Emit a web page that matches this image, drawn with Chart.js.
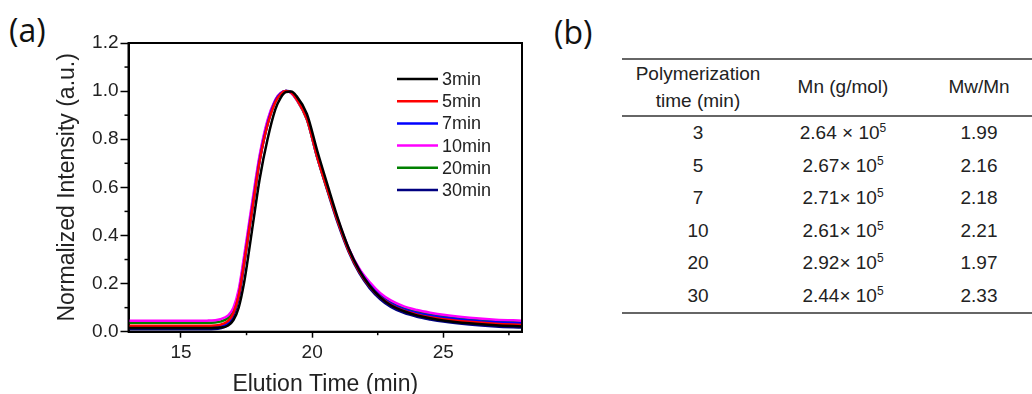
<!DOCTYPE html>
<html lang="en">
<head>
    <meta charset="UTF-8">
    <title>GPC traces and molecular weight table</title>
    <script src="https://cdn.jsdelivr.net/npm/chart.js"></script>
    <style>
        body { margin: 0; width: 1032px; height: 394px; background: #fff; position: relative; overflow: hidden; }
        .panel-tag { position: absolute; font-family: 'Open Sans', sans-serif; font-size: 32px; line-height: 32px; color: #111; }
        #chartBox { position: absolute; left: 0; top: 0; width: 540px; height: 394px; }
        #tblBox { position: absolute; left: 622px; top: 58px; width: 410px; }
        table { border-collapse: separate; border-spacing: 0; width: 410px; table-layout: fixed;
                font-family: 'Liberation Sans', Arial, sans-serif; font-size: 19px; color: #222;
                border-top: 2px solid #666; border-bottom: 2px solid #666; }
        th { font-weight: normal; height: 55px; padding: 0; line-height: 26.7px; border-bottom: 2px solid #666; text-align: center; vertical-align: middle; }
        td { height: 32.5px; padding: 0; line-height: 32.5px; text-align: center; }
        .c3 { padding-left: 14px; }
        sup { font-size: 12px; line-height: 0; vertical-align: 7px; }
    </style>
</head>
<body>
    <div class="panel-tag" style="left:9px; top:14px;">(a)</div>
    <div class="panel-tag" style="left:554px; top:16px;">(b)</div>
    <div id="chartBox"><canvas id="gpcChart"></canvas></div>
    <div id="tblBox">
        <table>
            <colgroup><col style="width:152px"><col style="width:138px"><col style="width:120px"></colgroup>
            <thead>
                <tr><th>Polymerization<br>time (min)</th><th>Mn (g/mol)</th><th class="c3">Mw/Mn</th></tr>
            </thead>
            <tbody id="tblBody"></tbody>
        </table>
    </div>

    <script>
// elution time grid (min) shared by all traces
const elutionTime = [13, 14, 15, 16, 16.5, 16.8, 17.0, 17.2, 17.4, 17.6, 17.8, 18.0, 18.3, 18.6, 18.8, 19.0, 19.2, 19.4,
    19.8, 20.2, 20.6, 21.0, 21.4, 21.8, 22.2, 22.6, 23.0, 23.5, 24, 24.5, 25, 26, 27, 28];

const seriesLabels = ['3min', '5min', '7min', '10min', '20min', '30min'];

const trace3 = [0.015, 0.015, 0.015, 0.015, 0.017, 0.026, 0.048, 0.10, 0.20, 0.34, 0.49, 0.635, 0.80, 0.925, 0.972, 0.996, 0.998, 0.98,
    0.905, 0.75, 0.605, 0.465, 0.345, 0.255, 0.19, 0.143, 0.11, 0.085, 0.068, 0.056, 0.047, 0.035, 0.027, 0.022];
const trace5 = [0.025, 0.025, 0.025, 0.025, 0.029, 0.045, 0.078, 0.15, 0.28, 0.425, 0.57, 0.71, 0.86, 0.955, 0.988, 1.0, 0.994, 0.968,
    0.885, 0.725, 0.585, 0.452, 0.335, 0.25, 0.188, 0.143, 0.112, 0.087, 0.071, 0.06, 0.052, 0.041, 0.033, 0.028];
const trace7 = [0.02, 0.02, 0.02, 0.02, 0.024, 0.04, 0.075, 0.148, 0.28, 0.43, 0.575, 0.715, 0.865, 0.96, 0.99, 1.0, 0.995, 0.972,
    0.89, 0.73, 0.59, 0.455, 0.34, 0.255, 0.193, 0.148, 0.117, 0.093, 0.077, 0.066, 0.058, 0.047, 0.039, 0.035];
const trace10 = [0.045, 0.045, 0.045, 0.046, 0.052, 0.068, 0.10, 0.175, 0.31, 0.455, 0.60, 0.735, 0.88, 0.965, 0.992, 1.0, 0.992, 0.966,
    0.885, 0.725, 0.59, 0.46, 0.345, 0.262, 0.205, 0.16, 0.13, 0.105, 0.09, 0.079, 0.07, 0.058, 0.05, 0.046];
const trace20 = [0.037, 0.037, 0.037, 0.037, 0.042, 0.058, 0.09, 0.162, 0.295, 0.44, 0.585, 0.725, 0.872, 0.962, 0.99, 1.0, 0.993, 0.966,
    0.882, 0.722, 0.585, 0.455, 0.342, 0.258, 0.198, 0.153, 0.123, 0.098, 0.083, 0.073, 0.065, 0.054, 0.046, 0.041];
const trace30 = [0.01, 0.01, 0.01, 0.01, 0.014, 0.03, 0.066, 0.14, 0.275, 0.425, 0.57, 0.712, 0.862, 0.958, 0.988, 1.0, 0.995, 0.97,
    0.885, 0.722, 0.58, 0.445, 0.33, 0.243, 0.18, 0.135, 0.103, 0.078, 0.062, 0.051, 0.042, 0.03, 0.022, 0.017];

const xMajorTicks = [15, 20, 25];
const xMinorTicks = [17.5, 22.5, 27.5];
const yMajorTicks = [0, 0.2, 0.4, 0.6, 0.8, 1.0, 1.2];
const yMinorTicks = [0.1, 0.3, 0.5, 0.7, 0.9, 1.1];

// table (b)
const polyTimes = ['3', '5', '7', '10', '20', '30'];
const mnText = ['2.64 \u00d7 10', '2.67\u00d7 10', '2.71\u00d7 10', '2.61\u00d7 10', '2.92\u00d7 10', '2.44\u00d7 10'];
const mnExponent = ['5', '5', '5', '5', '5', '5'];
const pdiValues = ['1.99', '2.16', '2.18', '2.21', '1.97', '2.33'];

const tbody = document.getElementById('tblBody');
polyTimes.forEach((t, i) => {
    const tr = document.createElement('tr');
    tr.innerHTML = '<td>' + t + '</td><td>' + mnText[i] + '<sup>' + mnExponent[i] + '</sup></td><td class="c3">' + pdiValues[i] + '</td>';
    tbody.appendChild(tr);
});

const FONT = "'Liberation Sans', Arial, sans-serif";
const colors = ['#000000', '#ff0000', '#0000ff', '#ff00ff', '#008000', '#000080'];
const traces = [trace3, trace5, trace7, trace10, trace20, trace30];

// box around plot, minor ticks and the inset legend
const framePlugin = {
    id: 'frame',
    afterDatasetsDraw(chart) {
        const { ctx, chartArea: a, scales: { x, y } } = chart;
        ctx.save();
        ctx.strokeStyle = '#000';
        ctx.lineWidth = 2;
        ctx.strokeRect(a.left, a.top, a.right - a.left, a.bottom - a.top);

        ctx.lineWidth = 1.5;
        yMinorTicks.forEach(v => {
            const py = y.getPixelForValue(v);
            ctx.beginPath(); ctx.moveTo(a.left - 4, py); ctx.lineTo(a.left, py); ctx.stroke();
        });
        xMinorTicks.forEach(v => {
            const px = x.getPixelForValue(v);
            ctx.beginPath(); ctx.moveTo(px, a.bottom); ctx.lineTo(px, a.bottom + 3.5); ctx.stroke();
        });

        ctx.font = '18px ' + FONT;
        ctx.textBaseline = 'middle';
        ctx.textAlign = 'left';
        chart.data.datasets.forEach((ds, i) => {
            const ly = a.top + 36 + i * 22.2;
            ctx.strokeStyle = ds.borderColor;
            ctx.lineWidth = 2.5;
            ctx.beginPath(); ctx.moveTo(a.right - 125, ly); ctx.lineTo(a.right - 84, ly); ctx.stroke();
            ctx.fillStyle = '#222';
            ctx.fillText(ds.label, a.right - 80, ly + 1);
        });
        ctx.restore();
    }
};

new Chart(document.getElementById('gpcChart'), {
    type: 'line',
    data: {
        datasets: traces.map((tr, i) => ({
            label: seriesLabels[i],
            data: elutionTime.map((t, j) => ({ x: t, y: tr[j] })),
            borderColor: colors[i],
            borderWidth: 2.5,
            pointRadius: 0,
            cubicInterpolationMode: 'monotone',
            fill: false
        }))
    },
    options: {
        responsive: true,
        maintainAspectRatio: false,
        animation: false,
        layout: { padding: { top: 43, right: 18, left: 0, bottom: 0 } },
        plugins: { legend: { display: false }, tooltip: { enabled: false } },
        scales: {
            x: {
                type: 'linear',
                min: 13,
                max: 28,
                afterBuildTicks: s => { s.ticks = xMajorTicks.map(v => ({ value: v })); },
                afterFit: s => { s.height = 62.3; },
                border: { color: '#000', width: 2 },
                grid: { drawOnChartArea: false, drawTicks: true, tickLength: 6, tickColor: '#000', tickWidth: 1.5 },
                ticks: { color: '#222', padding: 4, font: { family: FONT, size: 19 } },
                title: { display: true, text: 'Elution Time (min)', color: '#222', padding: 0,
                         font: { family: FONT, size: 23, lineHeight: 0.8 } }
            },
            y: {
                min: 0,
                max: 1.2,
                afterBuildTicks: s => { s.ticks = yMajorTicks.map(v => ({ value: v })); },
                afterFit: s => { s.width = 128.5; },
                border: { color: '#000', width: 2 },
                grid: { drawOnChartArea: false, drawTicks: true, tickLength: 8, tickColor: '#000', tickWidth: 1.5 },
                ticks: { color: '#222', padding: 2, font: { family: FONT, size: 19 }, callback: v => v.toFixed(1) },
                title: { display: true, text: 'Normalized Intensity (a.u.)', color: '#222', padding: { top: 54, bottom: 0 },
                         font: { family: FONT, size: 23, lineHeight: 1.2 } }
            }
        }
    },
    plugins: [framePlugin]
});
</script>
</body>
</html>
